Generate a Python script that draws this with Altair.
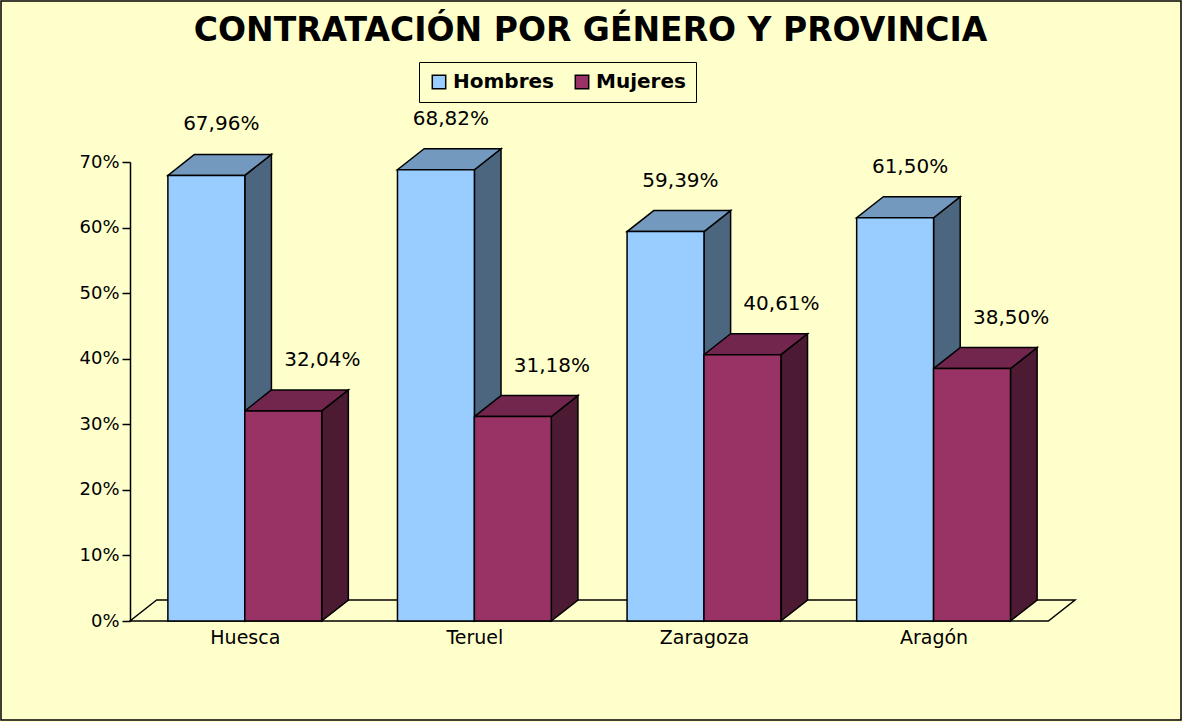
import altair as alt
import pandas as pd

categories = ["Huesca", "Teruel", "Zaragoza", "Aragón"]
series = ["Hombres", "Mujeres"]
hombres = [67.96, 68.82, 59.39, 61.50]
mujeres = [32.04, 31.18, 40.61, 38.50]
y_ticks = [0, 10, 20, 30, 40, 50, 60, 70]

# layout (in data units of the two scales)
BAR_W = 0.335
DX = 0.116
DY = 3.2
XMAX = len(categories) + DX
W, H = 945, 459

front_c = {"Hombres": "#99CCFF", "Mujeres": "#993366"}
top_c = {"Hombres": "#7399BF", "Mujeres": "#73264D"}
side_c = {"Hombres": "#4D6680", "Mujeres": "#4D1A33"}

front, side, top = [], [], []
for i, cat in enumerate(categories):
    c = i + 0.5
    for s, vals in zip(series, [hombres, mujeres]):
        v = vals[i]
        x0 = c - BAR_W if s == "Hombres" else c
        x1 = x0 + BAR_W
        bid = f"{cat}-{s}"
        lab = f"{v:.2f}".replace(".", ",") + "%"
        shift = 0.065 if s == "Hombres" else 0.17
        front.append(dict(id=bid, cat=cat, serie=s, x0=x0, x1=x1, v=v,
                          label=lab, lx=x0 + BAR_W / 2 + shift, ly=v + DY))
        side.append(dict(id=bid, serie=s, x=x1, lo=0, hi=v))
        side.append(dict(id=bid, serie=s, x=x1 + DX, lo=DY, hi=v + DY))
        top.append(dict(id=bid, serie=s, y=v, l=x0, r=x1))
        top.append(dict(id=bid, serie=s, y=v + DY, l=x0 + DX, r=x1 + DX))

front_df = pd.DataFrame(front)
side_df = pd.DataFrame(side)
top_df = pd.DataFrame(top)
floor_df = pd.DataFrame([dict(y=0, l=0, r=len(categories)),
                         dict(y=DY, l=DX, r=len(categories) + DX)])

xscale = alt.Scale(domain=[0, XMAX], nice=False, zero=False)
yscale = alt.Scale(domain=[0, 70], nice=False)

label_expr = "[" + ",".join(f"'{c}'" for c in categories) + "][floor(datum.value)]"
x_axis = alt.Axis(values=[i + 0.5 for i in range(len(categories))], labelExpr=label_expr,
                  domain=False, ticks=False, grid=False, title=None, labelFont="DejaVu Sans",
                  labelFontSize=19, labelColor="black", labelPadding=7)
y_axis = alt.Axis(values=y_ticks, labelExpr="datum.value + '%'", grid=False, title=None,
                  domainColor="black", domainWidth=1.5, tickColor="black", tickWidth=1.5,
                  tickSize=8, labelFont="DejaVu Sans", labelFontSize=18, labelColor="black",
                  labelPadding=3)

def cond(colors):
    return alt.condition("datum.serie === 'Hombres'", alt.value(colors["Hombres"]),
                         alt.value(colors["Mujeres"]))

floor = alt.Chart(floor_df).mark_area(orient="horizontal", fill="#FFFFCC", stroke="black",
                                      strokeWidth=1.5).encode(
    y=alt.Y("y:Q", scale=yscale, axis=y_axis),
    x=alt.X("l:Q", scale=xscale, axis=x_axis),
    x2="r:Q",
)

sides = alt.Chart(side_df).mark_area(orient="vertical", stroke="black", strokeWidth=1.5).encode(
    x=alt.X("x:Q", scale=xscale),
    y=alt.Y("lo:Q", scale=yscale),
    y2="hi:Q",
    detail="id:N",
    fill=cond(side_c),
)

tops = alt.Chart(top_df).mark_area(orient="horizontal", stroke="black", strokeWidth=1.5).encode(
    y=alt.Y("y:Q", scale=yscale),
    x=alt.X("l:Q", scale=xscale),
    x2="r:Q",
    detail="id:N",
    fill=cond(top_c),
)

fronts = alt.Chart(front_df).mark_rect(stroke="black", strokeWidth=1.5).encode(
    x=alt.X("x0:Q", scale=xscale),
    x2="x1:Q",
    y=alt.Y("v:Q", scale=yscale),
    y2=alt.datum(0),
    color=alt.Color("serie:N", scale=alt.Scale(domain=series,
                                               range=[front_c[s] for s in series]),
                    legend=alt.Legend(title=None, orient="none", legendX=289, legendY=-100,
                                      direction="horizontal", strokeColor="black",
                                      fillColor="#FFFFCC", padding=10, symbolType="square",
                                      symbolSize=180, symbolStrokeColor="black",
                                      symbolStrokeWidth=1.5, labelFont="DejaVu Sans",
                                      labelFontWeight="bold", labelFontSize=20,
                                      labelColor="black", labelOffset=4, columnPadding=18)),
)

labels = alt.Chart(front_df).mark_text(font="DejaVu Sans", fontSize=20, color="black",
                                       dy=-30, baseline="middle").encode(
    x=alt.X("lx:Q", scale=xscale),
    y=alt.Y("ly:Q", scale=yscale),
    text="label:N",
)

border = alt.Chart(pd.DataFrame([{"a": 1}])).mark_rect(fillOpacity=0, stroke="black",
                                                       strokeWidth=1.5).encode(
    x=alt.value(-129), x2=alt.value(W + 106), y=alt.value(-161), y2=alt.value(H + 99),
)

chart = alt.layer(floor, sides, tops, fronts, labels, border).properties(
    width=W, height=H,
    autosize=alt.AutoSizeParams(type="none"),
    padding={"left": 130, "top": 162, "right": 107, "bottom": 101},
    background="#FFFFCC",
    title=alt.TitleParams("CONTRATACIÓN POR GÉNERO Y PROVINCIA", font="DejaVu Sans",
                          fontSize=33, fontWeight="bold", color="black", anchor="middle",
                          frame="group", baseline="alphabetic", offset=-74, dx=-12),
).configure_view(stroke=None)

chart.save("out.html", embed_options={"renderer": "svg", "actions": False})
